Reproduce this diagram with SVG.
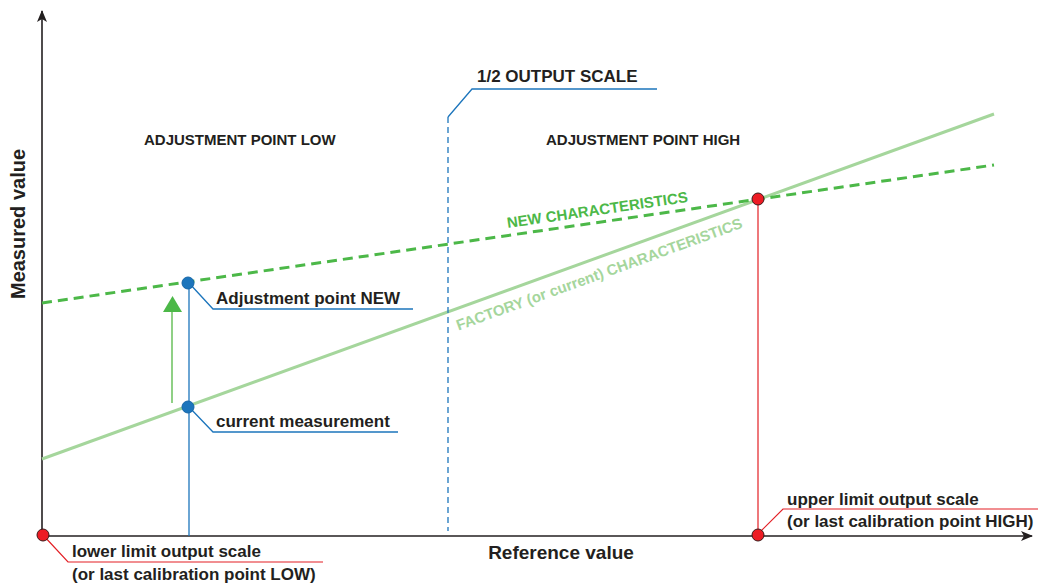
<svg xmlns="http://www.w3.org/2000/svg" width="1038" height="584" viewBox="0 0 1038 584">
<style>
text{font-family:"Liberation Sans",Arial,sans-serif;font-weight:bold;fill:#231f20}
.lbl{font-size:17px}
.zone{font-size:15px}
.axis{stroke:#231f20;stroke-width:1.6;fill:none}
.blue{stroke:#1c75bc;stroke-width:1.3;fill:none}
.red{stroke:#e31e24;stroke-width:1.2;fill:none}
.bpt{fill:#1c75bc;stroke:#1565a8;stroke-width:1}
.rpt{fill:#ed1c24;stroke:#3a1a1a;stroke-width:1}
</style>
<defs>
<marker id="ah" markerWidth="12" markerHeight="10" refX="11" refY="5" orient="auto" markerUnits="userSpaceOnUse">
<path d="M0,0 L12,5 L0,10 L3,5 Z" fill="#231f20"/>
</marker>
</defs>
<g id="connectors">
<line class="axis" x1="42" y1="537" x2="42" y2="11" marker-end="url(#ah)"/>
<line class="axis" x1="42" y1="536" x2="1032" y2="536" marker-end="url(#ah)"/>
<line x1="42" y1="459" x2="994" y2="114" stroke="#a5d69c" stroke-width="3"/>
<line x1="42" y1="303" x2="994" y2="165" stroke="#4cb848" stroke-width="3" stroke-dasharray="10,6"/>
<line x1="448" y1="117" x2="448" y2="531" stroke="#1c75bc" stroke-width="1.3" stroke-dasharray="6,4"/>
<polyline class="blue" points="448,117 472,89 657,89"/>
<line class="blue" x1="189" y1="283" x2="189" y2="536"/>
<polyline class="blue" points="189,283 213,309 413,309"/>
<polyline class="blue" points="189,407 213,432 398,432"/>
<line class="red" x1="758" y1="199" x2="758" y2="535"/>
<polyline class="red" points="43,535 68,562 323,562"/>
<polyline class="red" points="758,534 783,509 1038,509"/>
<line x1="172" y1="403" x2="172" y2="310" stroke="#8fd085" stroke-width="2"/>
<polygon points="163,312 182,312 172.5,296" fill="#4cb848"/>
</g>
<g id="points">
<circle class="rpt" cx="43" cy="535" r="6"/>
<circle class="rpt" cx="758" cy="535" r="6"/>
<circle class="rpt" cx="758" cy="199" r="6"/>
<circle class="bpt" cx="188" cy="283" r="6"/>
<circle class="bpt" cx="188" cy="407" r="6"/>
</g>
<g id="labels">
<text x="25" y="224" text-anchor="middle" transform="rotate(-90 25 224)" style="font-size:20px">Measured value</text>
<text x="561" y="559" text-anchor="middle" style="font-size:19px">Reference value</text>
<text class="lbl" x="477" y="82">1/2 OUTPUT SCALE</text>
<text class="zone" x="144" y="145">ADJUSTMENT POINT LOW</text>
<text class="zone" x="546" y="145">ADJUSTMENT POINT HIGH</text>
<text class="zone" x="598" y="215" text-anchor="middle" transform="rotate(-8.25 598 215)" style="fill:#4cb848">NEW CHARACTERISTICS</text>
<text class="zone" x="601" y="279" text-anchor="middle" transform="rotate(-19.9 601 279)" style="fill:#a5d69c">FACTORY (or current) CHARACTERISTICS</text>
<text class="lbl" x="216" y="304">Adjustment point NEW</text>
<text class="lbl" x="216" y="427">current measurement</text>
<text class="lbl" x="72" y="557">lower limit output scale</text>
<text class="lbl" x="72" y="580">(or last calibration point LOW)</text>
<text class="lbl" x="787" y="505">upper limit output scale</text>
<text class="lbl" x="787" y="527">(or last calibration point HIGH)</text>
</g>
</svg>
